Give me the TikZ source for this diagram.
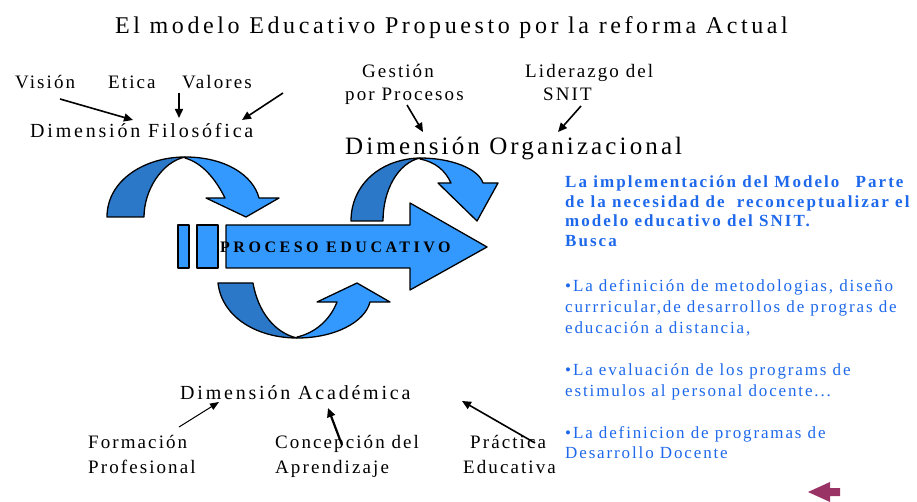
\documentclass[tikz,border=0pt]{standalone}
\usepackage{fontspec}
\setmainfont{Liberation Serif}
\usetikzlibrary{arrows.meta}
\definecolor{lblue}{RGB}{51,153,255}
\definecolor{dblue}{RGB}{43,120,200}
\definecolor{tblue}{RGB}{30,105,235}
\definecolor{mag}{RGB}{153,51,102}
\tikzset{
  txt/.style={inner sep=0pt, anchor=base west, text=black},
  lbl/.style={txt, font=\fontsize{19}{22}\selectfont\addfontfeature{LetterSpace=11}},
  dim/.style={txt, font=\fontsize{20}{24}\selectfont\addfontfeature{LetterSpace=14}},
  big/.style={txt, font=\fontsize{24}{28}\selectfont\addfontfeature{LetterSpace=15}},
  bbold/.style={txt, text=tblue, font=\fontsize{17}{20}\selectfont\bfseries\addfontfeature{LetterSpace=12}},
  breg/.style={txt, text=tblue, font=\fontsize{17}{20}\selectfont\addfontfeature{LetterSpace=11}},
  shp/.style={draw=black, line width=1.3pt, line join=round},
  lk/.style={draw=black, line width=1.6pt, -{Triangle[length=9pt,width=8pt]}},
  lkt/.style={draw=black, line width=1pt, -{Triangle[length=9pt,width=7pt]}}
}
\begin{document}
\begin{tikzpicture}[x=1pt,y=-1pt]
\useasboundingbox (0,0) rectangle (917,502);
\fill[white] (0,0) rectangle (917,502);

% title
\node[big] (title) at (115,34) {El modelo Educativo Propuesto por la reforma Actual};

% top-left curved arrow
\path[shp, fill=dblue] (107,217) .. controls (107,180) and (145,157) .. (185,157)
  .. controls (162,162) and (144,190) .. (144,217) -- cycle;
\path[shp, fill=lblue] (185,157) .. controls (225,157) and (253,175) .. (259,198)
  -- (279,198) -- (246,217) -- (206,198) -- (225,198)
  .. controls (215,178) and (202,163) .. (185,158) -- cycle;

% top-right curved arrow
\path[shp, fill=dblue] (351,221) .. controls (351,185) and (380,159) .. (420,158)
  .. controls (398,163) and (383,190) .. (383,221) -- cycle;
\path[shp, fill=lblue] (420,158) .. controls (450,158) and (478,168) .. (483,183)
  -- (498,183) -- (477,221) -- (438,183) -- (451,183)
  .. controls (445,170) and (435,162) .. (420,159) -- cycle;

% bottom curved arrow
\path[shp, fill=dblue] (218,283) .. controls (222,318) and (258,338) .. (297,338)
  .. controls (275,333) and (258,312) .. (253,283) -- cycle;
\path[shp, fill=lblue] (297,338) .. controls (335,338) and (365,322) .. (370,302)
  -- (390,302) -- (357,283) -- (317,302) -- (337,302)
  .. controls (330,320) and (315,333) .. (297,337) -- cycle;

% main arrow
\path[shp, fill=lblue] (178,225) rectangle (189,268);
\path[shp, fill=lblue] (197,225) rectangle (218,268);
\path[shp, fill=lblue] (226,225) -- (410,225) -- (410,203) -- (487,247) -- (410,290)
  -- (410,268) -- (226,268) -- cycle;
\node[txt, font=\fontsize{16}{18}\selectfont\bfseries\addfontfeature{LetterSpace=22}] (proc) at (220,253) {PROCESO EDUCATIVO};

% Dimensión Filosófica
\node[lbl] (vis) at (15,89) {Visión};
\node[lbl] (eti) at (108,89) {Etica};
\node[lbl] (val) at (182,89) {Valores};
\node[dim] (fil) at (30,138) {Dimensión Filosófica};
\coordinate (visE) at (60,99);   \coordinate (visT) at (133,120);
\coordinate (etiE) at (179,93);  \coordinate (etiT) at (179,118);
\coordinate (valE) at (283,93);  \coordinate (valT) at (242,120);
\draw[lk] (visE) -- (visT);
\draw[lk] (etiE) -- (etiT);
\draw[lk] (valE) -- (valT);

% Dimensión Organizacional
\node[lbl] (ges) at (362,78) {Gestión};
\node[lbl] (proc2) at (345,101) {por Procesos};
\node[lbl] (lid) at (525,78) {Liderazgo del};
\node[lbl] (snit) at (543,101) {SNIT};
\node[big, font=\fontsize{25}{28}\selectfont\addfontfeature{LetterSpace=12.5}] (org) at (345,155) {Dimensión Organizacional};
\coordinate (gesE) at (407,105); \coordinate (gesT) at (423,132);
\coordinate (lidE) at (581,106); \coordinate (lidT) at (558,132);
\draw[lk] (gesE) -- (gesT);
\draw[lk] (lidE) -- (lidT);

% Dimensión Académica
\node[dim] (aca) at (180,399) {Dimensión Académica};
\node[lbl] (for1) at (88,448) {Formación};
\node[lbl] (for2) at (88,473) {Profesional};
\node[lbl] (con1) at (275,448) {Concepción del};
\node[lbl] (con2) at (275,473) {Aprendizaje};
\node[lbl] (pra1) at (470,448) {Práctica};
\node[lbl] (pra2) at (463,473) {Educativa};
\coordinate (forE) at (179,427); \coordinate (forT) at (219,402);
\coordinate (conE) at (342,445); \coordinate (conT) at (328,408);
\coordinate (praE) at (535,443); \coordinate (praT) at (462,401);
\draw[lkt] (forE) -- (forT);
\draw[lk, line width=2.2pt] (conE) -- (conT);
\draw[lk] (praE) -- (praT);

% blue text
\node[bbold] (b1) at (565,188) {La implementación del Modelo\hspace{10pt} Parte};
\node[bbold] (b2) at (565,208) {de la necesidad de\hspace{6pt} reconceptualizar el};
\node[bbold] (b3) at (565,227) {modelo educativo del SNIT.};
\node[bbold] (b4) at (565,247) {Busca};
\node[breg] (r1) at (565,291) {•La definición de metodologias, diseño};
\node[breg] (r2) at (565,312) {currricular,de desarrollos de progras de};
\node[breg] (r3) at (565,333) {educación a distancia,};
\node[breg] (r4) at (565,375) {•La evaluación de los programs de};
\node[breg] (r5) at (565,396) {estimulos al personal docente...};
\node[breg] (r6) at (565,438) {•La definicion de programas de};
\node[breg] (r7) at (565,458) {Desarrollo Docente};

% magenta back arrow
\fill[mag] (808,492) -- (830,482) -- (830,488) -- (840,488) -- (840,496) -- (830,496) -- (830,502) -- cycle;
\end{tikzpicture}
\end{document}
